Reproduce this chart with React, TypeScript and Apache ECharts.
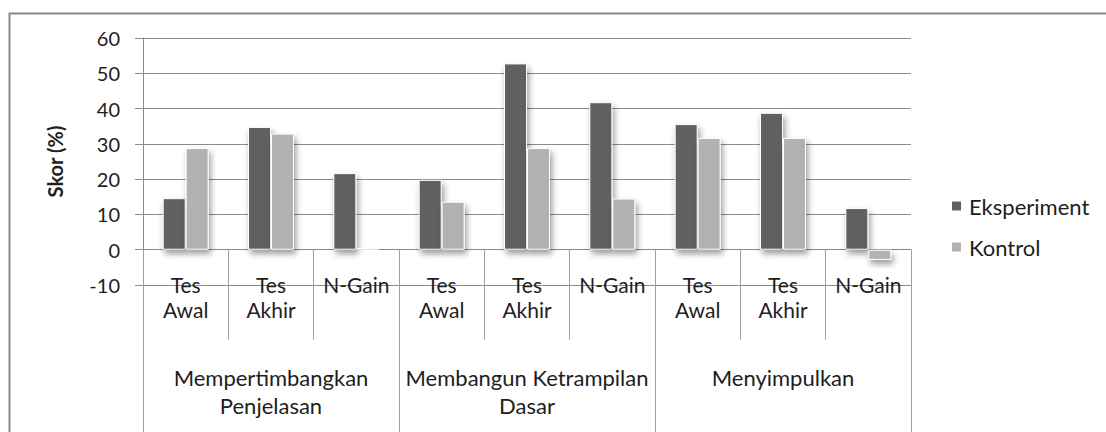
import React, { useEffect, useRef } from "react";
import * as echarts from "echarts";

const subCategories = ["Tes\nAwal", "Tes\nAkhir", "N-Gain", "Tes\nAwal", "Tes\nAkhir", "N-Gain", "Tes\nAwal", "Tes\nAkhir", "N-Gain"];
const groups = ["Mempertimbangkan\nPenjelasan", "Membangun Ketrampilan\nDasar", "Menyimpulkan"];
const eksperiment = [14.6, 34.8, 21.7, 19.8, 52.8, 41.8, 35.6, 38.8, 11.8];
const kontrol = [28.8, 32.9, 0.5, 13.6, 28.8, 14.5, 31.7, 31.7, -2.9];
const seriesNames = ["Eksperiment", "Kontrol"];

const FONT = "Lato";
const TEXT = "#1e1e1e";

export default function App() {
  const ref = useRef<HTMLDivElement>(null);
  useEffect(() => {
    if (!ref.current) return;
    const chart = echarts.init(ref.current, undefined, { renderer: "svg" });
    const barStyle = (color: string) => ({
      color,
      borderColor: "#ffffff",
      borderWidth: 1,
      shadowBlur: 6,
      shadowOffsetX: 2,
      shadowOffsetY: 4,
      shadowColor: "rgba(0,0,0,0.4)",
    });
    chart.setOption({
      animation: false,
      backgroundColor: "#ffffff",
      textStyle: { fontFamily: FONT },
      graphic: [
        {
          type: "rect",
          shape: { x: 9.5, y: 13.5, width: 1200, height: 600 },
          style: { fill: "none", stroke: "#888888", lineWidth: 2 },
          silent: true,
          z: 100,
        },
      ],
      legend: {
        orient: "vertical",
        left: 945,
        top: 190,
        itemWidth: 11,
        itemHeight: 11,
        itemGap: 19,
        icon: "rect",
        textStyle: { fontFamily: FONT, fontSize: 22, color: TEXT, padding: [0, 0, 0, 2] },
        data: seriesNames,
      },
      grid: { left: 143, right: 195, top: 38, bottom: 147, containLabel: false },
      xAxis: [
        {
          type: "category",
          data: subCategories,
          position: "bottom",
          axisLine: { onZero: true, lineStyle: { color: "#8a8a8a", width: 1 } },
          axisTick: { show: true, length: 90, lineStyle: { color: "#a0a0a0", width: 1 } },
          axisLabel: {
            interval: 0,
            margin: -13.5,
            fontFamily: FONT,
            fontSize: 21,
            lineHeight: 25,
            color: TEXT,
          },
        },
        {
          type: "category",
          data: groups,
          position: "bottom",
          offset: 0,
          axisLine: { show: false, onZero: false },
          axisTick: { show: true, length: 150, lineStyle: { color: "#a0a0a0", width: 1 } },
          axisLabel: {
            interval: 0,
            margin: 78,
            fontFamily: FONT,
            fontSize: 22,
            lineHeight: 28,
            color: TEXT,
          },
        },
      ],
      yAxis: {
        type: "value",
        min: -10,
        max: 60,
        interval: 10,
        name: "Skor (%)",
        nameLocation: "middle",
        nameGap: 78,
        nameTextStyle: { fontFamily: FONT, fontSize: 20, fontWeight: "bold", color: TEXT },
        axisLine: { show: true, lineStyle: { color: "#8a8a8a", width: 1 } },
        axisTick: { show: true, length: 8, lineStyle: { color: "#8a8a8a" } },
        axisLabel: { margin: 23, fontFamily: FONT, fontSize: 20, color: TEXT },
        splitLine: { show: true, lineStyle: { color: "#8a8a8a", width: 1 } },
      },
      series: [
        {
          name: seriesNames[0],
          type: "bar",
          xAxisIndex: 0,
          data: eksperiment,
          barWidth: 23,
          barGap: "0%",
          itemStyle: barStyle("#606060"),
        },
        {
          name: seriesNames[1],
          type: "bar",
          xAxisIndex: 0,
          data: kontrol,
          barWidth: 23,
          barGap: "0%",
          itemStyle: barStyle("#b2b2b2"),
        },
      ],
    });
    return () => chart.dispose();
  }, []);
  return (
    <div
      ref={ref}
      style={{ position: "absolute", left: 0, top: 0, width: 1106, height: 432 }}
    />
  );
}
